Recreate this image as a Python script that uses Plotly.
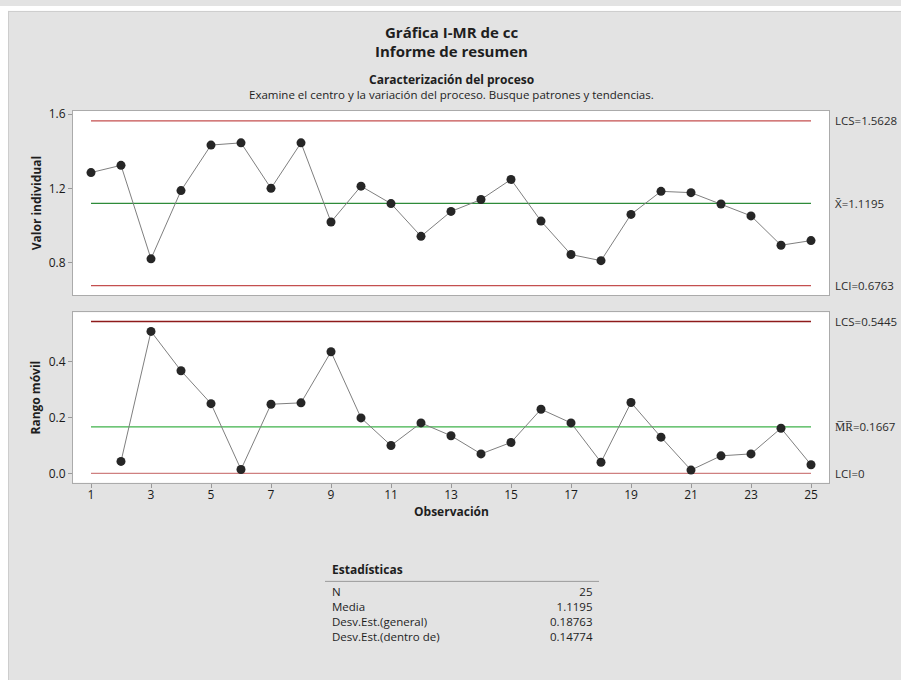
import plotly.graph_objects as go

# ---- data -----------------------------------------------------------------
observations = list(range(1, 26))
individual_values = [1.285, 1.324, 0.821, 1.188, 1.433, 1.445, 1.200, 1.445, 1.019, 1.212,
                     1.118, 0.942, 1.076, 1.140, 1.248, 1.024, 0.844, 0.811, 1.060, 1.184,
                     1.177, 1.116, 1.052, 0.894, 0.919]
mr_observations = list(range(2, 26))
moving_ranges = [0.043, 0.509, 0.368, 0.250, 0.014, 0.248, 0.253, 0.436, 0.199, 0.100,
                 0.181, 0.135, 0.070, 0.111, 0.230, 0.181, 0.040, 0.254, 0.130, 0.012,
                 0.063, 0.070, 0.162, 0.031]

i_limits = {"LCS": 1.5628, "center": 1.1195, "LCI": 0.6763}
mr_limits = {"LCS": 0.5445, "center": 0.1667, "LCI": 0.0}

x_ticks = list(range(1, 26, 2))
i_ticks = [0.8, 1.2, 1.6]
mr_ticks = [0.0, 0.2, 0.4]

stats_labels = ["N", "Media", "Desv.Est.(general)", "Desv.Est.(dentro de)"]
stats_values = ["25", "1.1195", "0.18763", "0.14774"]

# ---- layout helpers (pixel -> paper) ----------------------------------------
W, H = 901, 680
FONT = "Open Sans"
def px(x):
    return x / W
def py(y):
    return 1 - y / H

BG = "#e3e3e3"
FRAME = "#ababab"
POINT = "#262626"
CONNECT = "#7f7f7f"

fig = go.Figure()

# control limit lines first so the data points sit on top
for key, color in [("LCS", "#c44f4f"), ("center", "#2e8b3a"), ("LCI", "#c44f4f")]:
    fig.add_trace(go.Scatter(
        x=[observations[0], observations[-1]], y=[i_limits[key]] * 2, mode="lines",
        line=dict(color=color, width=1.3), xaxis="x", yaxis="y",
        showlegend=False, hoverinfo="skip"))
for key, color in [("LCS", "#8e1b1b"), ("center", "#3fb24a"), ("LCI", "#cf8080")]:
    fig.add_trace(go.Scatter(
        x=[observations[0], observations[-1]], y=[mr_limits[key]] * 2, mode="lines",
        line=dict(color=color, width=1.3), xaxis="x2", yaxis="y2",
        showlegend=False, hoverinfo="skip"))

# Individual values chart
fig.add_trace(go.Scatter(
    x=observations, y=individual_values, mode="lines+markers",
    line=dict(color=CONNECT, width=1),
    marker=dict(color=POINT, size=9),
    xaxis="x", yaxis="y", showlegend=False, hoverinfo="x+y"))

# Moving range chart
fig.add_trace(go.Scatter(
    x=mr_observations, y=moving_ranges, mode="lines+markers",
    line=dict(color=CONNECT, width=1),
    marker=dict(color=POINT, size=9),
    xaxis="x2", yaxis="y2", showlegend=False, hoverinfo="x+y"))

x_dom = [px(73), px(829)]
axis_common = dict(showgrid=False, zeroline=False, showline=True, linecolor=FRAME,
                   linewidth=1, mirror=True)
tickfont = dict(family=FONT, size=12, color="#1a1a1a")

fig.update_layout(
    width=W, height=H,
    margin=dict(l=0, r=0, t=0, b=0),
    paper_bgcolor=BG, plot_bgcolor="white",
    font=dict(family=FONT, color="#1e1e1e"),
    xaxis=dict(domain=x_dom, range=[0.4, 25.6], anchor="y", showticklabels=False,
               ticks="", **axis_common),
    yaxis=dict(domain=[py(292), py(106)], range=[0.624, 1.616], anchor="x",
               tickvals=i_ticks, ticktext=[f"{v:.1f}" for v in i_ticks],
               ticks="outside", ticklen=4, tickcolor="#999", tickfont=tickfont,
               **axis_common),
    xaxis2=dict(domain=x_dom, range=[0.4, 25.6], anchor="y2",
                tickvals=x_ticks, ticks="outside", ticklen=4, tickcolor="#999",
                ticklabelstandoff=-3, tickfont=tickfont, **axis_common),
    yaxis2=dict(domain=[py(481), py(309)], range=[-0.0335, 0.5776], anchor="x2",
                tickvals=mr_ticks, ticktext=[f"{v:.1f}" for v in mr_ticks],
                ticks="outside", ticklen=4, tickcolor="#999", tickfont=tickfont,
                **axis_common),
)

ann = []
def text(x, y, s, size=11, bold=False, xanchor="center", yanchor="middle",
         xref="paper", yref="paper", angle=0, color="#1e1e1e", align="center"):
    ann.append(dict(x=x, y=y, xref=xref, yref=yref, text=f"<b>{s}</b>" if bold else s,
                    showarrow=False, xanchor=xanchor, yanchor=yanchor, textangle=angle,
                    align=align, borderpad=0,
                    font=dict(family=FONT, size=size, color=color)))

# titles
text(px(451), py(26), "Gráfica I-MR de cc", size=15, bold=True)
text(px(451), py(45), "Informe de resumen", size=15, bold=True)
text(px(451), py(74), "Caracterización del proceso", size=12, bold=True)
text(px(451), py(89), "Examine el centro y la variación del proceso. Busque patrones y tendencias.",
     size=11.5)

# axis titles
text(px(36), py(199), "Valor individual", size=12, bold=True, angle=-90)
text(px(36), py(395), "Rango móvil", size=12, bold=True, angle=-90)
text(px(451), py(510), "Observación", size=12, bold=True)

# control limit labels
lab_color = "#2b2b2b"
text(px(834), i_limits["LCS"], f"LCS={i_limits['LCS']:.4f}", size=11.5, xanchor="left",
     yref="y", color=lab_color)
text(px(834), i_limits["center"], f"X\u0304={i_limits['center']:.4f}", size=11.5,
     xanchor="left", yref="y", color=lab_color)
text(px(834), i_limits["LCI"], f"LCI={i_limits['LCI']:.4f}", size=11.5, xanchor="left",
     yref="y", color=lab_color)
text(px(834), mr_limits["LCS"], f"LCS={mr_limits['LCS']:.4f}", size=11.5, xanchor="left",
     yref="y2", color=lab_color)
text(px(834), mr_limits["center"], f"M\u0305R\u0305={mr_limits['center']:.4f}", size=11.5,
     xanchor="left", yref="y2", color=lab_color)
text(px(834), mr_limits["LCI"], f"LCI={mr_limits['LCI']:g}", size=11.5, xanchor="left",
     yref="y2", color=lab_color)

# statistics table: one block of labels, one block of right-aligned values
text(px(331), py(569), "Estadísticas", size=12, bold=True, xanchor="left")
block_y = py(613)
text(px(331), block_y, "<br>".join(stats_labels), size=11.5, xanchor="left", align="left")
text(px(594), block_y, "<br>".join(stats_values), size=11.5, xanchor="right", align="right")

fig.update_layout(annotations=ann)

shapes = [
    # white outer strips on the left and top of the panel
    dict(type="rect", xref="paper", yref="paper", x0=0, x1=px(8), y0=0, y1=1,
         fillcolor="white", line=dict(width=0), layer="below"),
    dict(type="rect", xref="paper", yref="paper", x0=0, x1=1, y0=py(5), y1=1,
         fillcolor="white", line=dict(width=0), layer="below"),
    dict(type="line", xref="paper", yref="paper", x0=px(8.5), x1=px(8.5), y0=0, y1=py(5),
         line=dict(color="#cdcdcd", width=1), layer="below"),
    dict(type="line", xref="paper", yref="paper", x0=px(8), x1=1, y0=py(5.5), y1=py(5.5),
         line=dict(color="#cdcdcd", width=1), layer="below"),
    # rule under the statistics heading
    dict(type="line", xref="paper", yref="paper", x0=px(325), x1=px(599),
         y0=py(580.5), y1=py(580.5), line=dict(color="#9a9a9a", width=1)),
]
fig.update_layout(shapes=shapes)

fig.write_html("out.html")
